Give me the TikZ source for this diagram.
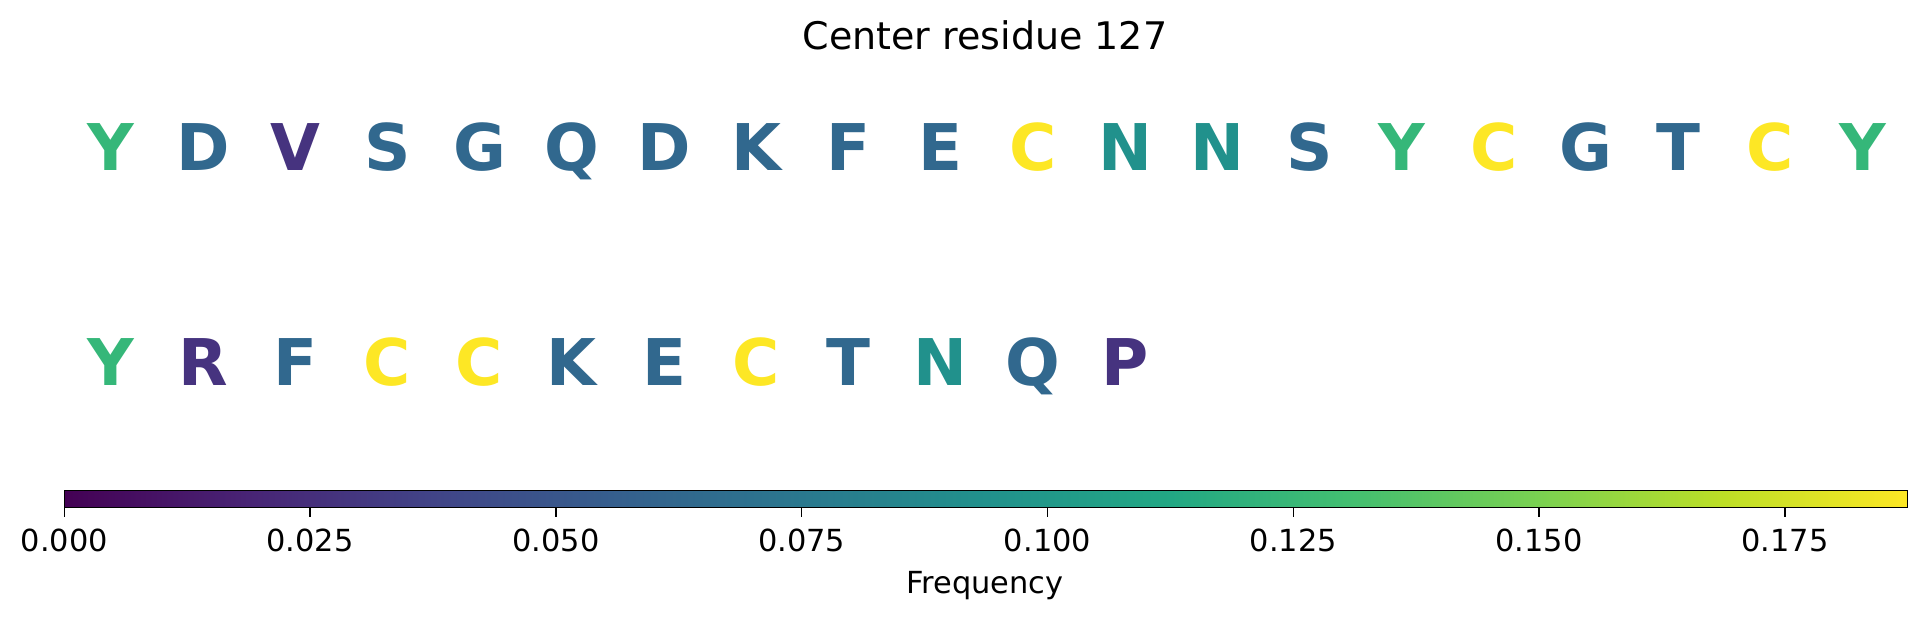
\documentclass[tikz,border=0pt]{standalone}
\usepackage{fontspec}
\setsansfont{DejaVu Sans}
\usepackage{tikz}
\usetikzlibrary{positioning}
% viridis colours
\definecolor{FreqOne}{HTML}{46337F}
\definecolor{FreqTwo}{HTML}{31688E}
\definecolor{FreqThree}{HTML}{21918C}
\definecolor{FreqFour}{HTML}{35B779}
\definecolor{FreqSix}{HTML}{FDE725}
\definecolor{VirA}{HTML}{440154}
\definecolor{VirB}{HTML}{482475}
\definecolor{VirC}{HTML}{414487}
\definecolor{VirD}{HTML}{355F8D}
\definecolor{VirE}{HTML}{2A788E}
\definecolor{VirF}{HTML}{21918C}
\definecolor{VirG}{HTML}{22A884}
\definecolor{VirH}{HTML}{44BF70}
\definecolor{VirI}{HTML}{7AD151}
\definecolor{VirJ}{HTML}{BDDF26}
\definecolor{VirK}{HTML}{FDE725}
\pgfdeclarehorizontalshading{viridis}{100bp}{color(0bp)=(VirA); color(25bp)=(VirA); color(30bp)=(VirB); color(35bp)=(VirC); color(40bp)=(VirD); color(45bp)=(VirE); color(50bp)=(VirF); color(55bp)=(VirG); color(60bp)=(VirH); color(65bp)=(VirI); color(70bp)=(VirJ); color(75bp)=(VirK); color(100bp)=(VirK)}
\tikzset{
  % Text styles
  residue/.style={anchor=base, inner sep=0pt, font=\sffamily\bfseries\fontsize{16.1}{16.1}\selectfont},
  titletext/.style={anchor=base, inner sep=0pt, font=\sffamily\fontsize{9.5}{9.5}\selectfont},
  ticklabel/.style={anchor=base, inner sep=0pt, font=\sffamily\fontsize{7.6}{7.6}\selectfont},
  % Bar styles
  colorbar/.style={draw=black, line width=0.33pt, shading=viridis},
  tickmark/.style={draw=black, line width=0.33pt}
}
\begin{document}
\begin{tikzpicture}[x=0.25pt, y=-0.25pt]
  \useasboundingbox (0,0) rectangle (1927,619);

  % Title
  \node[titletext] (title) at (985,49.3) {Center residue 127};

  % First row of residues
  \node[residue, text=FreqFour]  (a1)  at (110.8,170.5) {Y};
  \node[residue, text=FreqTwo]   (a2)  at (203.0,170.5) {D};
  \node[residue, text=FreqOne]   (a3)  at (295.2,170.5) {V};
  \node[residue, text=FreqTwo]   (a4)  at (387.4,170.5) {S};
  \node[residue, text=FreqTwo]   (a5)  at (479.6,170.5) {G};
  \node[residue, text=FreqTwo]   (a6)  at (571.8,170.5) {Q};
  \node[residue, text=FreqTwo]   (a7)  at (664.0,170.5) {D};
  \node[residue, text=FreqTwo]   (a8)  at (756.2,170.5) {K};
  \node[residue, text=FreqTwo]   (a9)  at (848.4,170.5) {F};
  \node[residue, text=FreqTwo]   (a10) at (940.6,170.5) {E};
  \node[residue, text=FreqSix]   (a11) at (1032.8,170.5) {C};
  \node[residue, text=FreqThree] (a12) at (1125.0,170.5) {N};
  \node[residue, text=FreqThree] (a13) at (1217.2,170.5) {N};
  \node[residue, text=FreqTwo]   (a14) at (1309.4,170.5) {S};
  \node[residue, text=FreqFour]  (a15) at (1401.6,170.5) {Y};
  \node[residue, text=FreqSix]   (a16) at (1493.8,170.5) {C};
  \node[residue, text=FreqTwo]   (a17) at (1586.0,170.5) {G};
  \node[residue, text=FreqTwo]   (a18) at (1678.2,170.5) {T};
  \node[residue, text=FreqSix]   (a19) at (1770.4,170.5) {C};
  \node[residue, text=FreqFour]  (a20) at (1862.6,170.5) {Y};

  % Second row of residues
  \node[residue, text=FreqFour]  (b1)  at (110.8,385.5) {Y};
  \node[residue, text=FreqOne]   (b2)  at (203.0,385.5) {R};
  \node[residue, text=FreqTwo]   (b3)  at (295.2,385.5) {F};
  \node[residue, text=FreqSix]   (b4)  at (387.4,385.5) {C};
  \node[residue, text=FreqSix]   (b5)  at (479.6,385.5) {C};
  \node[residue, text=FreqTwo]   (b6)  at (571.8,385.5) {K};
  \node[residue, text=FreqTwo]   (b7)  at (664.0,385.5) {E};
  \node[residue, text=FreqSix]   (b8)  at (756.2,385.5) {C};
  \node[residue, text=FreqTwo]   (b9)  at (848.4,385.5) {T};
  \node[residue, text=FreqThree] (b10) at (940.6,385.5) {N};
  \node[residue, text=FreqTwo]   (b11) at (1032.8,385.5) {Q};
  \node[residue, text=FreqOne]   (b12) at (1125.0,385.5) {P};

  % Colour bar
  \path[colorbar] (64.3,490.7) rectangle (1907.8,507.7);

  % Ticks and labels
  \draw[tickmark] (64.3,507.7) -- (64.3,516.7);
  \draw[tickmark] (310.1,507.7) -- (310.1,516.7);
  \draw[tickmark] (555.9,507.7) -- (555.9,516.7);
  \draw[tickmark] (801.7,507.7) -- (801.7,516.7);
  \draw[tickmark] (1047.5,507.7) -- (1047.5,516.7);
  \draw[tickmark] (1293.3,507.7) -- (1293.3,516.7);
  \draw[tickmark] (1539.1,507.7) -- (1539.1,516.7);
  \draw[tickmark] (1784.9,507.7) -- (1784.9,516.7);
  \node[ticklabel] (t0) at (64.3,551.7) {0.000};
  \node[ticklabel] (t1) at (310.1,551.7) {0.025};
  \node[ticklabel] (t2) at (555.9,551.7) {0.050};
  \node[ticklabel] (t3) at (801.7,551.7) {0.075};
  \node[ticklabel] (t4) at (1047.5,551.7) {0.100};
  \node[ticklabel] (t5) at (1293.3,551.7) {0.125};
  \node[ticklabel] (t6) at (1539.1,551.7) {0.150};
  \node[ticklabel] (t7) at (1784.9,551.7) {0.175};

  % Axis label
  \node[ticklabel] (freq) at (985,593.3) {Frequency};
\end{tikzpicture}
\end{document}
